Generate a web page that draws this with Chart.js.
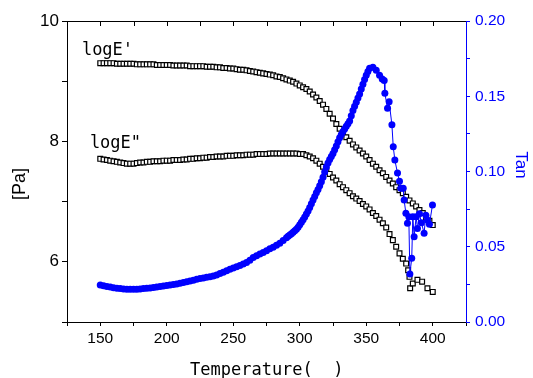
<!DOCTYPE html>
<html>
<head>
<meta charset="utf-8">
<script src="https://cdn.jsdelivr.net/npm/chart.js@4/dist/chart.umd.min.js"></script>
<style>
html,body{margin:0;padding:0;background:#fff;}
#wrap{width:533px;height:378px;position:relative;}
</style>
</head>
<body>
<div id="wrap"><canvas id="c"></canvas></div>
<script>
// ---- data ----
const tempStorage = [150,152.5,155,157.5,160,162.5,165,167.5,170,172.5,175,177.5,180,182.5,185,187.5,190,192.5,195,197.5,200,202.5,205,207.5,210,212.5,215,217.5,220,222.5,225,227.5,230,232.5,235,237.5,240,242.5,245,247.5,250,252.5,255,257.5,260,262.5,265,267.5,270,272.5,275,277.5,280,282.5,285,287.5,290,292.5,295,297.5,300,302.5,305,307.5,310,312.5,315,317.5,320,322.5,325,327.5,330,332.5,335,337.5,340,342.5,345,347.5,350,352.5,355,357.5,360,362.5,365,367.5,370,372.5,375,377.5,380,382.5,385,387.5,390,392.5,395,397.5,400];
const logEStorage = [9.30,9.30,9.30,9.30,9.30,9.29,9.29,9.29,9.29,9.29,9.29,9.28,9.28,9.28,9.28,9.28,9.28,9.27,9.27,9.27,9.27,9.27,9.26,9.26,9.26,9.26,9.26,9.25,9.25,9.25,9.25,9.25,9.24,9.24,9.24,9.23,9.23,9.22,9.22,9.21,9.21,9.20,9.19,9.19,9.18,9.17,9.16,9.15,9.14,9.13,9.12,9.11,9.10,9.08,9.07,9.05,9.03,9.01,8.99,8.96,8.93,8.90,8.87,8.83,8.78,8.73,8.67,8.61,8.54,8.46,8.38,8.29,8.21,8.14,8.07,8.01,7.95,7.90,7.85,7.80,7.75,7.69,7.63,7.58,7.52,7.47,7.41,7.35,7.30,7.24,7.19,7.14,7.08,7.02,6.97,6.92,6.86,6.81,6.74,6.68,6.61];

const tempLoss = [150,152.5,155,157.5,160,162.5,165,167.5,170,172.5,175,177.5,180,182.5,185,187.5,190,192.5,195,197.5,200,202.5,205,207.5,210,212.5,215,217.5,220,222.5,225,227.5,230,232.5,235,237.5,240,242.5,245,247.5,250,252.5,255,257.5,260,262.5,265,267.5,270,272.5,275,277.5,280,282.5,285,287.5,290,292.5,295,297.5,300,302.5,305,307.5,310,312.5,315,317.5,320,322.5,325,327.5,330,332.5,335,337.5,340,342.5,345,347.5,350,352.5,355,357.5,360,362.5,365,367.5,370,372.5,375,377.5,380,381.5,382.5,383,385,388.5,392,396,400];
const logELoss = [7.71,7.70,7.69,7.68,7.67,7.66,7.65,7.64,7.63,7.63,7.63,7.64,7.65,7.65,7.66,7.66,7.67,7.67,7.67,7.68,7.68,7.68,7.69,7.69,7.69,7.70,7.70,7.71,7.71,7.72,7.72,7.73,7.73,7.74,7.74,7.75,7.75,7.75,7.76,7.76,7.76,7.77,7.77,7.77,7.78,7.78,7.78,7.79,7.79,7.79,7.79,7.80,7.80,7.80,7.80,7.80,7.80,7.80,7.80,7.80,7.79,7.79,7.77,7.75,7.72,7.68,7.63,7.58,7.52,7.46,7.40,7.35,7.29,7.24,7.19,7.14,7.09,7.05,7.01,6.96,6.92,6.87,6.81,6.76,6.70,6.64,6.57,6.46,6.36,6.25,6.14,6.05,5.97,5.86,5.75,5.56,5.64,5.70,5.67,5.56,5.50];

const tempTan = [150,152.5,155,157.5,160,162.5,165,167.5,170,172.5,175,177.5,180,182.5,185,187.5,190,192.5,195,197.5,200,202.5,205,207.5,210,212.5,215,217.5,220,222.5,225,227.5,230,232.5,235,237.5,240,242.5,245,247.5,250,252.5,255,257.5,260,262.5,265,267.5,270,272.5,275,277.5,280,282.5,285,287.5,
  290,291.25,292.5,293.75,295,296.25,297.5,298.75,300,301.25,302.5,303.75,305,306.25,307.5,308.75,310,311.25,312.5,313.75,315,316.25,317.5,318.75,320,321.25,322.5,323.75,325,326.25,327.5,328.75,330,331.25,332.5,333.75,335,336.25,337.5,338.75,340,341.25,342.5,343.75,345,346.25,347.5,348.75,350,351.25,352.5,
  355,357.5,360,362,363.5,364,366,367.2,369.3,370.3,371.5,373.5,375,376,377.8,378.5,379.8,381,382,382.8,384.2,385,386,387.5,388.5,390,391.5,393.5,394.8,396,397.5,399.8];
const tanDelta = [0.0246,0.0241,0.0236,0.0232,0.0228,0.0225,0.0222,0.0220,0.0218,0.0217,0.0217,0.0218,0.0220,0.0222,0.0224,0.0226,0.0229,0.0232,0.0236,0.0240,0.0243,0.0246,0.0250,0.0253,0.0257,0.0262,0.0267,0.0272,0.0278,0.0284,0.0289,0.0293,0.0297,0.0301,0.0305,0.0313,0.0322,0.0331,0.0340,0.0350,0.0358,0.0367,0.0376,0.0385,0.0395,0.0410,0.0428,0.0440,0.0452,0.0462,0.0474,0.0486,0.0497,0.0510,0.0524,0.0541,
  0.0560,0.0569,0.0578,0.0587,0.0597,0.0606,0.0616,0.0630,0.0646,0.0662,0.0680,0.0698,0.0718,0.0738,0.0760,0.0785,0.0810,0.0834,0.0858,0.0880,0.0905,0.0932,0.0962,0.0997,0.1030,0.1056,0.1080,0.1100,0.1120,0.1145,0.1170,0.1198,0.1225,0.1246,0.1265,0.1283,0.1300,0.1318,0.1335,0.1370,0.1405,0.1433,0.1460,0.1488,0.1515,0.1548,0.1580,0.1612,0.1640,0.1665,0.1686,
  0.1692,0.1672,0.1640,0.1615,0.1605,0.1520,0.1420,0.1464,0.1310,0.1165,0.1076,0.0990,0.0935,0.0888,0.0888,0.0810,0.0722,0.0656,0.0700,0.0319,0.0423,0.0700,0.0567,0.0700,0.0622,0.0720,0.0660,0.0590,0.0710,0.0678,0.0650,0.0777];

const xLabels = [150,200,250,300,350,400];
const leftLabels = [6,8,10];
const rightLabels = [0.00,0.05,0.10,0.15,0.20];

const texts = {
  storage: "logE'",
  loss: 'logE"',
  xTitle: 'Temperature(  )',
  yTitle: '[Pa]',
  y2Title: 'Tan'
};
const storagePos = {x:136.2, y:9.43};
const lossPos = {x:142.2, y:7.89};

// ---- chart ----
const pairs = (xs, ys) => xs.map((v,i)=>({x:v, y:ys[i]}));
const BLUE = '#0000ff';
const SANS = '"Liberation Sans", Arial, sans-serif';
const MONO = '"DejaVu Sans Mono", monospace';

const decor = {
  id: 'decor',
  afterDraw(chart){
    const {ctx, chartArea:a, scales} = chart;
    const x = scales.x, y = scales.y;
    ctx.save();
    ctx.strokeStyle = '#000';
    ctx.lineWidth = 1;
    ctx.beginPath();
    ctx.moveTo(a.left, a.top + 0.5);
    ctx.lineTo(a.right, a.top + 0.5);
    x.ticks.forEach(t => {
      const px = Math.round(x.getPixelForValue(t.value)) + 0.5;
      if (px > a.left + 1 && px < a.right - 1) {
        ctx.moveTo(px, a.top);
        ctx.lineTo(px, a.top + 5);
      }
    });
    ctx.stroke();

    ctx.fillStyle = '#000';
    ctx.font = '17px ' + MONO;
    ctx.textAlign = 'left';
    ctx.textBaseline = 'alphabetic';
    ctx.fillText(texts.storage, x.getPixelForValue(storagePos.x), y.getPixelForValue(storagePos.y));
    ctx.fillText(texts.loss, x.getPixelForValue(lossPos.x), y.getPixelForValue(lossPos.y));

    ctx.font = '17px ' + MONO;
    ctx.fillText(texts.xTitle, 190, 375);

    ctx.save();
    ctx.translate(20, 184);
    ctx.rotate(-Math.PI/2);
    ctx.textAlign = 'center';
    ctx.textBaseline = 'middle';
    ctx.font = '18px ' + SANS;
    ctx.fillText(texts.yTitle, 0, 0);
    ctx.restore();

    ctx.save();
    ctx.translate(521, 165);
    ctx.rotate(Math.PI/2);
    ctx.textAlign = 'center';
    ctx.textBaseline = 'middle';
    ctx.font = '17px ' + SANS;
    ctx.fillStyle = BLUE;
    ctx.fillText(texts.y2Title, 0, 0);
    ctx.restore();

    ctx.restore();
  }
};

const near = (v, arr) => arr.some(a => Math.abs(a - v) < 1e-6);

new Chart(document.getElementById('c'), {
  type: 'scatter',
  data: {
    datasets: [
      {
        label: 'Tan',
        data: pairs(tempTan, tanDelta),
        yAxisID: 'y2',
        showLine: true,
        borderColor: BLUE,
        borderWidth: 1,
        pointRadius: 3.5,
        pointBackgroundColor: BLUE,
        pointBorderWidth: 0,
        pointStyle: 'circle'
      },
      {
        label: "logE'",
        data: pairs(tempStorage, logEStorage),
        yAxisID: 'y',
        showLine: false,
        pointStyle: 'rect',
        pointRadius: 3.4,
        pointBackgroundColor: '#fff',
        pointBorderColor: '#000',
        pointBorderWidth: 1.2
      },
      {
        label: 'logE"',
        data: pairs(tempLoss, logELoss),
        yAxisID: 'y',
        showLine: false,
        pointStyle: 'rect',
        pointRadius: 3.4,
        pointBackgroundColor: '#fff',
        pointBorderColor: '#000',
        pointBorderWidth: 1.2
      }
    ]
  },
  options: {
    responsive: true,
    maintainAspectRatio: false,
    animation: false,
    events: [],
    layout: {padding: {top: 21, left: 0, right: 0, bottom: 0}},
    plugins: {legend: {display: false}, tooltip: {enabled: false}},
    scales: {
      x: {
        type: 'linear', position: 'bottom', min: 125, max: 425,
        afterFit: s => { s.height = 56; },
        grid: {drawOnChartArea: false, tickLength: 4, color: '#000'},
        border: {color: '#000', width: 1},
        ticks: {
          stepSize: 25, autoSkip: false, maxRotation: 0, padding: 3, color: '#000',
          font: {family: SANS, size: 15.5},
          callback: v => near(v, xLabels) ? String(v) : ''
        }
      },
      y: {
        type: 'linear', position: 'left', min: 5, max: 10,
        afterFit: s => { s.width = 67; },
        grid: {drawOnChartArea: false, tickLength: 5, color: '#000'},
        border: {color: '#000', width: 1},
        ticks: {
          stepSize: 1, autoSkip: false, padding: 3, color: '#000',
          font: {family: SANS, size: 17},
          callback: v => near(v, leftLabels) ? String(v) : ''
        }
      },
      y2: {
        type: 'linear', position: 'right', min: 0, max: 0.2,
        afterFit: s => { s.width = 67; },
        grid: {drawOnChartArea: false, tickLength: 4, color: BLUE},
        border: {color: BLUE, width: 1},
        ticks: {
          stepSize: 0.025, autoSkip: false, padding: 5, color: BLUE,
          font: {family: SANS, size: 15.5},
          callback: v => near(v, rightLabels) ? v.toFixed(2) : ''
        }
      }
    }
  },
  plugins: [decor]
});
</script>
</body>
</html>
